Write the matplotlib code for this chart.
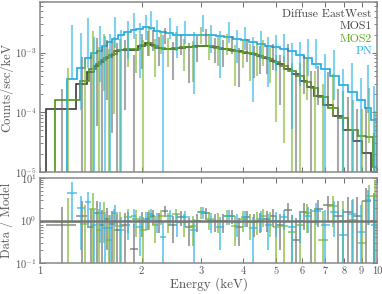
import numpy as np
import matplotlib
matplotlib.use('Agg')
import matplotlib.pyplot as plt

plt.rcParams['font.family'] = 'serif'
plt.rcParams['font.serif'] = ['cmr10']
plt.rcParams['mathtext.fontset'] = 'cm'
plt.rcParams['axes.formatter.use_mathtext'] = True
plt.rcParams['axes.unicode_minus'] = False

# bin edges (keV), model (counts/sec/keV), ratio data/model and its error
mos1_edges = [1.04, 1.28, 1.38, 1.45, 1.50, 1.55, 1.60, 1.66, 1.73, 1.85,
              1.95, 2.05, 2.12, 2.20, 2.30, 2.40, 2.55, 2.70, 2.85, 3.00,
              3.20, 3.40, 3.60, 3.80, 4.00, 4.20, 4.40, 4.60, 4.80, 5.00,
              5.30, 5.60, 5.90, 6.20, 6.50, 6.90, 7.40, 7.90, 8.50, 9.00,
              9.60, 10.0]
mos1_model = [1.15e-4, 3.0e-4, 4.8e-4, 6.0e-4, 7.0e-4, 8.0e-4, 9.0e-4, 1.05e-3, 1.1e-3, 1.12e-3,
              1.3e-3, 1.45e-3, 1.35e-3, 1.2e-3, 1.15e-3, 1.15e-3, 1.2e-3, 1.25e-3, 1.28e-3, 1.28e-3,
              1.22e-3, 1.15e-3, 1.1e-3, 1.05e-3, 1.0e-3, 9.3e-4, 8.7e-4, 8.0e-4, 7.3e-4, 6.5e-4,
              5.3e-4, 4.3e-4, 3.4e-4, 2.6e-4, 1.9e-4, 1.3e-4, 8.5e-5, 5.0e-5, 3.3e-5, 2.1e-5,
              1.0e-5]
mos1_ratio = [0.8, 1.3, 0.7, 1.5, 0.8, 1.1, 0.85, 0.6, 0.8, 0.22,
              1.0, 1.1, 1.3, 1.0, 1.7, 0.8, 1.2, 0.7, 1.0, 1.5,
              1.0, 0.95, 1.3, 0.7, 1.2, 0.9, 1.0, 1.1, 1.3, 0.8,
              1.8, 0.35, 1.6, 0.9, 1.9, 2.3, 1.3, 1.6, 1.3, 2.8,
              1.0]
mos1_err = [1.3, 1.5, 1.2, 1.4, 1.0, 0.9, 0.8, 0.8, 0.7, 0.6,
            0.6, 0.5, 0.5, 0.5, 0.5, 0.5, 0.45, 0.45, 0.45, 0.45,
            0.45, 0.45, 0.45, 0.45, 0.5, 0.5, 0.5, 0.55, 0.6, 0.6,
            0.8, 0.8, 1.0, 1.0, 1.2, 1.4, 1.6, 2.0, 2.2, 3.0,
            3.5]

mos2_edges = [1.11, 1.31, 1.40, 1.47, 1.52, 1.57, 1.63, 1.69, 1.77, 1.88,
              1.98, 2.07, 2.15, 2.24, 2.34, 2.46, 2.60, 2.75, 2.92, 3.08,
              3.28, 3.48, 3.68, 3.90, 4.10, 4.30, 4.50, 4.70, 4.90, 5.15,
              5.45, 5.75, 6.05, 6.35, 6.70, 7.15, 7.65, 8.20, 8.80, 9.25,
              9.70, 10.0]
mos2_model = [1.6e-4, 3.3e-4, 5.2e-4, 6.5e-4, 7.5e-4, 8.5e-4, 9.5e-4, 1.1e-3, 1.15e-3, 1.15e-3,
              1.35e-3, 1.45e-3, 1.3e-3, 1.2e-3, 1.15e-3, 1.18e-3, 1.22e-3, 1.26e-3, 1.28e-3, 1.27e-3,
              1.2e-3, 1.13e-3, 1.08e-3, 1.02e-3, 9.7e-4, 9.0e-4, 8.4e-4, 7.7e-4, 7.0e-4, 6.0e-4,
              4.9e-4, 4.0e-4, 3.2e-4, 2.5e-4, 1.8e-4, 1.2e-4, 8e-5, 5e-5, 4e-5, 3.8e-5,
              1.2e-5]
mos2_ratio = [0.9, 0.85, 1.9, 0.6, 1.5, 0.35, 1.0, 0.75, 1.2, 1.1,
              0.6, 1.2, 0.8, 1.3, 1.0, 1.4, 0.9, 0.75, 1.6, 1.1,
              1.0, 1.3, 0.75, 1.1, 0.9, 1.0, 1.3, 1.0, 0.7, 0.75,
              0.55, 0.8, 1.5, 0.9, 0.35, 2.2, 1.0, 1.05, 0.3, 3.8,
              3.7]
mos2_err = [2.5, 1.5, 2.5, 1.3, 1.2, 1.0, 0.9, 0.8, 0.7, 0.7,
            0.6, 0.6, 0.5, 0.5, 0.5, 0.5, 0.5, 0.5, 0.5, 0.5,
            0.5, 0.5, 0.5, 0.55, 0.55, 0.55, 0.6, 0.6, 0.6, 0.7,
            0.8, 0.9, 1.0, 1.1, 1.3, 1.5, 1.8, 2.1, 2.5, 3.0,
            5.0]

pn_edges = [1.20, 1.29, 1.36, 1.42, 1.48, 1.53, 1.58, 1.64, 1.70, 1.78,
            1.86, 1.93, 2.02, 2.10, 2.18, 2.27, 2.37, 2.48, 2.62, 2.78,
            2.95, 3.12, 3.32, 3.52, 3.74, 3.96, 4.18, 4.40, 4.64, 4.88,
            5.15, 5.45, 5.75, 6.05, 6.40, 6.80, 7.25, 7.70, 8.20, 8.70,
            9.20, 9.60, 10.0]
pn_model = [3.6e-4, 5.5e-4, 8e-4, 1.0e-3, 1.05e-3, 1.3e-3, 1.5e-3, 1.7e-3, 2.0e-3, 2.2e-3,
            2.4e-3, 2.5e-3, 2.7e-3, 2.6e-3, 2.3e-3, 2.2e-3, 2.1e-3, 2.0e-3, 2.0e-3, 2.0e-3,
            2.0e-3, 1.95e-3, 1.9e-3, 1.8e-3, 1.7e-3, 1.6e-3, 1.5e-3, 1.4e-3, 1.3e-3, 1.25e-3,
            1.15e-3, 1.05e-3, 9e-4, 8e-4, 6.5e-4, 5.3e-4, 4e-4, 2.9e-4, 2.2e-4, 1.6e-4,
            1.2e-4, 7.5e-5]
pn_ratio = [4.5, 2.0, 2.7, 0.8, 1.5, 0.65, 0.65, 1.5, 0.6, 0.95,
            1.3, 0.7, 1.1, 1.4, 1.0, 0.4, 1.3, 0.9, 1.2, 0.6,
            1.6, 1.0, 0.7, 1.3, 0.9, 1.2, 0.65, 1.1, 0.8, 1.0,
            1.2, 0.7, 1.0, 1.3, 1.7, 0.8, 1.6, 0.45, 1.4, 0.55,
            3.0, 0.8]
pn_err = [3.5, 1.8, 2.0, 1.0, 1.2, 0.8, 0.7, 0.8, 0.6, 0.6,
          0.6, 0.55, 0.5, 0.5, 0.5, 0.5, 0.5, 0.5, 0.5, 0.5,
          0.5, 0.5, 0.5, 0.5, 0.5, 0.5, 0.55, 0.55, 0.6, 0.6,
          0.6, 0.65, 0.7, 0.8, 0.9, 1.0, 1.2, 1.4, 1.6, 1.8,
          2.2, 2.8]

series = [
    ('MOS1', mos1_edges, mos1_model, mos1_ratio, mos1_err, '#6e6e6e', '#3c3c3c'),
    ('MOS2', mos2_edges, mos2_model, mos2_ratio, mos2_err, '#7db52a', '#4b9614'),
    ('PN', pn_edges, pn_model, pn_ratio, pn_err, '#2ab4e6', '#1eaae4'),
]

fig = plt.figure(figsize=(3.82, 2.94), dpi=100)
ax1 = fig.add_axes([0.105, 0.415, 0.882, 0.578])
ax2 = fig.add_axes([0.105, 0.105, 0.882, 0.29])

floor = 1e-8
for name, edges, model, ratio, err, ecol, mcol in series:
    edges = np.array(edges)
    model = np.array(model)
    ratio = np.array(ratio)
    err = np.array(err)
    cen = 0.5 * (edges[:-1] + edges[1:])
    xerr = [cen - edges[:-1], edges[1:] - cen]
    data = ratio * model
    derr = err * model
    lo = data - np.maximum(data - derr, floor)
    ax1.errorbar(cen, data, yerr=[lo, derr], fmt='none',
                 ecolor=ecol, elinewidth=1.5, alpha=0.6, capsize=0)
    ax1.stairs(model, edges, color=mcol, lw=1.2)
    rlo = ratio - np.maximum(ratio - err, floor)
    ax2.errorbar(cen, ratio, xerr=xerr, yerr=[rlo, err], fmt='none',
                 ecolor=ecol, elinewidth=1.4, alpha=0.65, capsize=0)

ax2.axhline(1.0, color='#777777', lw=1.8, zorder=5)

tick_col = '#555555'
for ax in (ax1, ax2):
    ax.set_xscale('log')
    ax.set_yscale('log')
    ax.set_xlim(1, 10)
    ax.tick_params(which='both', direction='in', top=True, right=True,
                   colors=tick_col, labelsize=7.5)
    ax.tick_params(which='major', length=3.5, width=0.6, pad=2.5)
    ax.tick_params(which='minor', length=2, width=0.5)
    for s in ax.spines.values():
        s.set_color('#888888')
        s.set_linewidth(1.1)

ax1.set_ylim(1e-5, 7e-3)
ax2.set_ylim(0.1, 10)

xt = [1, 2, 3, 4, 5, 6, 7, 8, 9, 10]
for ax in (ax1, ax2):
    ax.xaxis.set_minor_locator(matplotlib.ticker.NullLocator())
    ax.set_xticks(xt)
ax1.set_xticklabels([])
ax2.set_xticklabels([str(v) for v in xt])

ax1.set_ylabel('Counts/sec/keV', fontsize=9, color=tick_col)
ax2.set_ylabel('Data / Model', fontsize=9, color=tick_col)
ax1.yaxis.set_label_coords(-0.08, 0.5)
ax2.yaxis.set_label_coords(-0.08, 0.5)
ax2.set_xlabel('Energy (keV)', fontsize=9.5, color=tick_col, labelpad=1)

labels = [('Diffuse EastWest', '#444444'), ('MOS1', '#444444'),
          ('MOS2', '#5aa51e'), ('PN', '#22aee6')]
for i, (txt, col) in enumerate(labels):
    ax1.text(0.985, 0.955 - i * 0.072, txt, transform=ax1.transAxes,
             ha='right', va='top', fontsize=8.5, color=col)

fig.savefig('out.png', dpi=100)
